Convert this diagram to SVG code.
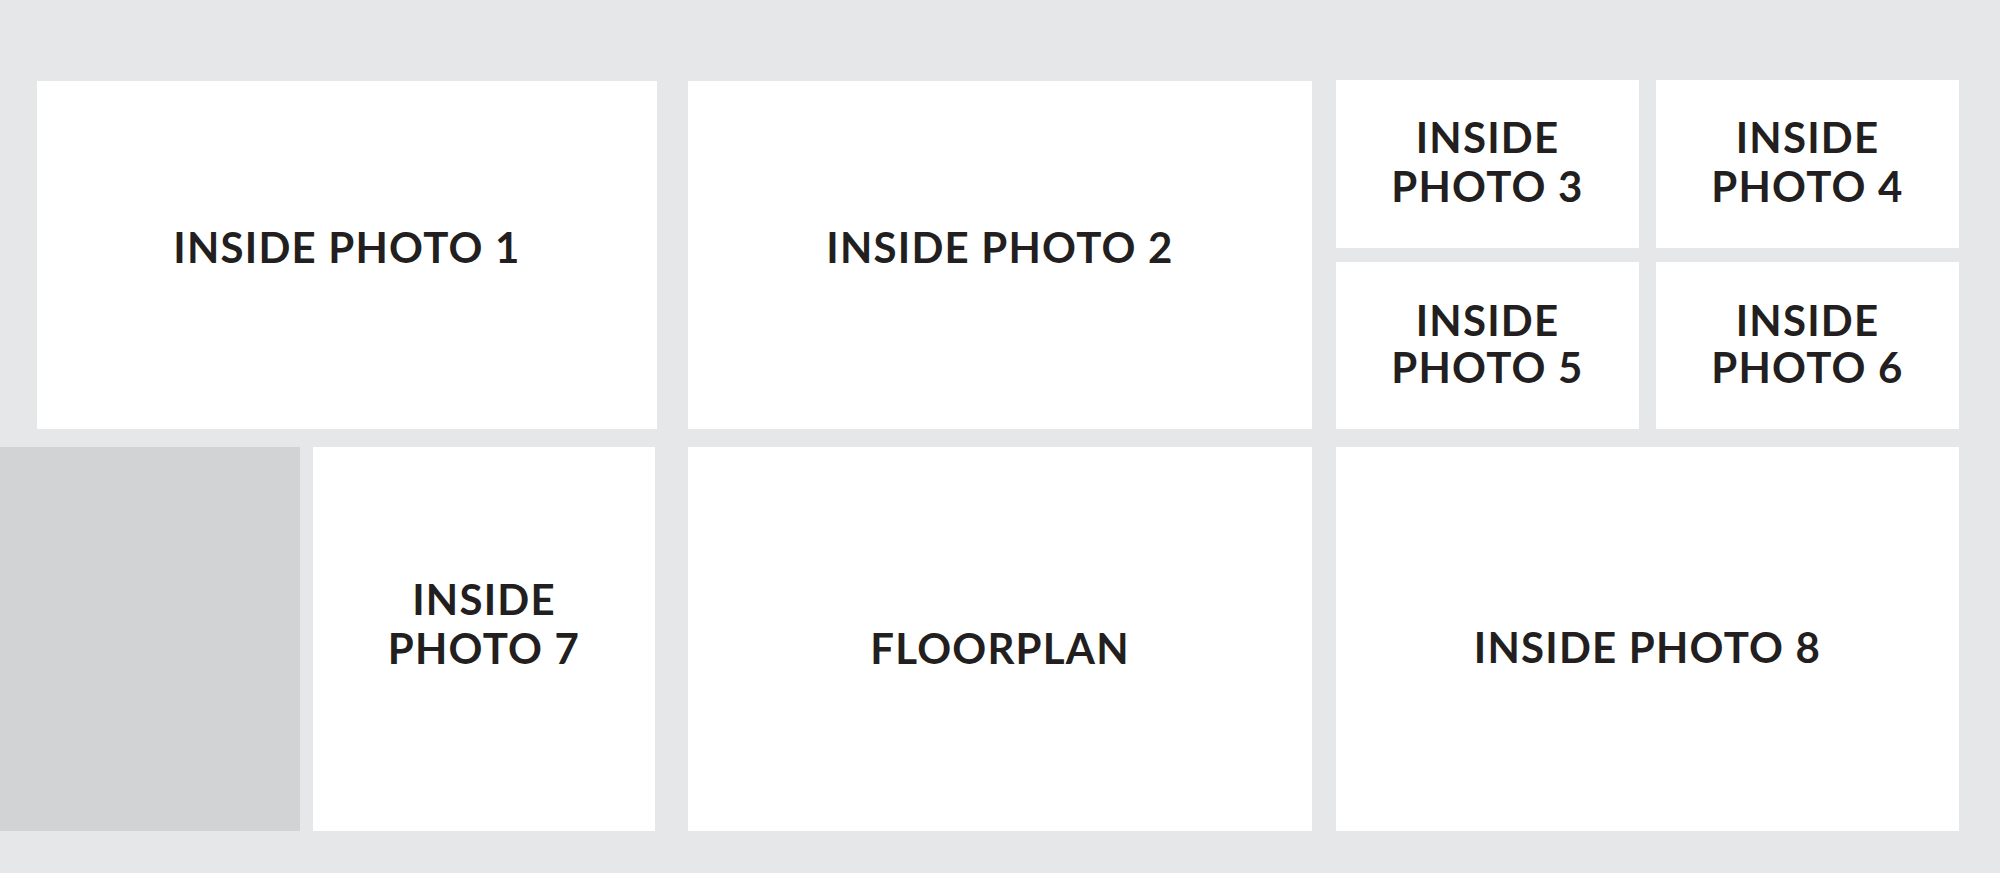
<svg xmlns="http://www.w3.org/2000/svg" width="2000" height="873" viewBox="0 0 2000 873">
<style>
.bg{fill:#e6e7e8}
.box{fill:#ffffff}
.ph{fill:#d1d3d4}
.t{font-family:Lato,"Liberation Sans",sans-serif;font-weight:700;font-size:42px;fill:#231f20;text-anchor:middle;letter-spacing:1.2px}
</style>
<rect class="bg" x="0" y="0" width="2000" height="873"/>
<g id="nodes">
<g id="photo1"><rect class="box" x="37" y="81" width="620" height="348"/><text class="t" x="347" y="263">INSIDE PHOTO 1</text></g>
<g id="photo2"><rect class="box" x="688" y="81" width="624" height="348"/><text class="t" x="1000" y="263">INSIDE PHOTO 2</text></g>
<g id="photo3"><rect class="box" x="1336" y="80" width="303" height="168"/><text class="t" x="1487.5" y="153">INSIDE</text><text class="t" x="1487.5" y="202">PHOTO 3</text></g>
<g id="photo4"><rect class="box" x="1656" y="80" width="303" height="168"/><text class="t" x="1807.5" y="153">INSIDE</text><text class="t" x="1807.5" y="202">PHOTO 4</text></g>
<g id="photo5"><rect class="box" x="1336" y="262" width="303" height="167"/><text class="t" x="1487.5" y="336">INSIDE</text><text class="t" x="1487.5" y="383">PHOTO 5</text></g>
<g id="photo6"><rect class="box" x="1656" y="262" width="303" height="167"/><text class="t" x="1807.5" y="336">INSIDE</text><text class="t" x="1807.5" y="383">PHOTO 6</text></g>
<g id="placeholder"><rect class="ph" x="0" y="447" width="300" height="384"/></g>
<g id="photo7"><rect class="box" x="313" y="447" width="342" height="384"/><text class="t" x="484" y="615">INSIDE</text><text class="t" x="484" y="664">PHOTO 7</text></g>
<g id="floorplan"><rect class="box" x="688" y="447" width="624" height="384"/><text class="t" x="1000" y="664">FLOORPLAN</text></g>
<g id="photo8"><rect class="box" x="1336" y="447" width="623" height="384"/><text class="t" x="1647.5" y="663">INSIDE PHOTO 8</text></g>
</g>
<g id="connectors"/>
</svg>
